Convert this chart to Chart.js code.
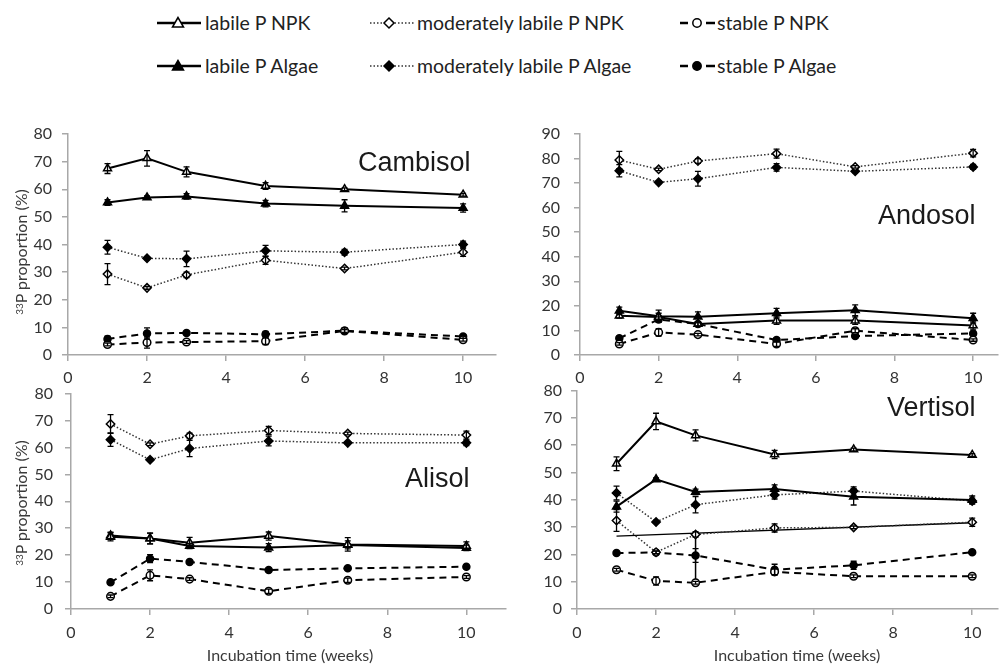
<!DOCTYPE html>
<html><head><meta charset="utf-8">
<script src="https://cdn.jsdelivr.net/npm/chart.js@4.4.1/dist/chart.umd.min.js"></script>
<style>
html,body{margin:0;padding:0;background:#fff;}
body{width:1004px;height:664px;position:relative;overflow:hidden;font-family:Lato,sans-serif;}
.t{position:absolute;white-space:nowrap;line-height:1;transform:translateY(-50%);}
.leg{font-size:19.5px;color:#222;}
.ptitle{font-family:"Liberation Sans",Arial,sans-serif;font-size:27px;color:#1a1a1a;}
.ytitle{position:absolute;white-space:nowrap;line-height:1;font-size:16px;color:#3a3a3a;transform:translate(-50%,-50%) rotate(-90deg);}
.ytitle sup{font-size:10px;vertical-align:4px;}
.xtitle{position:absolute;white-space:nowrap;line-height:1;font-size:16px;color:#3a3a3a;transform:translate(-50%,-50%);}
svg{position:absolute;}
</style></head><body>

<!-- legend -->
<svg style="left:155px;top:13px" width="48" height="20"><line x1="2" y1="10" x2="46" y2="10" stroke="#000" stroke-width="2.5"/><polygon points="23,4.5 17.5,14 28.5,14" fill="#fff" stroke="#000" stroke-width="1.5"/></svg>
<div class="t leg" style="left:205px;top:23px">labile P NPK</div>
<svg style="left:155px;top:56px" width="48" height="20"><line x1="2" y1="10" x2="46" y2="10" stroke="#000" stroke-width="2.5"/><polygon points="23,4.5 17.5,14 28.5,14" fill="#000" stroke="#000" stroke-width="1.5"/></svg>
<div class="t leg" style="left:205px;top:66px">labile P Algae</div>

<svg style="left:368px;top:13px" width="48" height="20"><line x1="2" y1="10" x2="46" y2="10" stroke="#333" stroke-width="1.5" stroke-dasharray="1.5 2"/><polygon points="21,5 26,10 21,15 16,10" fill="#fff" stroke="#000" stroke-width="1.5"/></svg>
<div class="t leg" style="left:417px;top:23px">moderately labile P NPK</div>
<svg style="left:368px;top:56px" width="48" height="20"><line x1="2" y1="10" x2="46" y2="10" stroke="#333" stroke-width="1.5" stroke-dasharray="1.5 2"/><polygon points="21,5 26,10 21,15 16,10" fill="#000" stroke="#000" stroke-width="1.5"/></svg>
<div class="t leg" style="left:417px;top:66px">moderately labile P Algae</div>

<svg style="left:678px;top:13px" width="40" height="20"><line x1="2" y1="10" x2="10" y2="10" stroke="#000" stroke-width="2.5"/><circle cx="19" cy="10" r="4.2" fill="#fff" stroke="#000" stroke-width="1.5"/><line x1="28" y1="10" x2="37" y2="10" stroke="#000" stroke-width="2.5"/></svg>
<div class="t leg" style="left:717px;top:23px">stable P NPK</div>
<svg style="left:678px;top:56px" width="40" height="20"><line x1="2" y1="10" x2="10" y2="10" stroke="#000" stroke-width="2.5"/><circle cx="19" cy="10" r="4.2" fill="#000" stroke="#000" stroke-width="1.5"/><line x1="28" y1="10" x2="37" y2="10" stroke="#000" stroke-width="2.5"/></svg>
<div class="t leg" style="left:717px;top:66px">stable P Algae</div>

<script>
// ---------- DATA ----------
const weeks = [1, 2, 3, 5, 7, 10];
const xTicks = [0, 2, 4, 6, 8, 10];

// Cambisol
const cambLabNPK = [67.5, 71.2, 66.3, 61.2, 60.0, 58.0];
const cambLabNPKErr = [1.8, 2.8, 1.8, 1.2, 0.5, 0.5];
const cambLabAlg = [55.2, 57.0, 57.4, 54.8, 54.0, 53.2];
const cambLabAlgErr = [1.0, 0.6, 1.0, 1.2, 2.2, 1.5];
const cambModNPK = [29.3, 24.3, 29.0, 34.3, 31.3, 37.2];
const cambModNPKErr = [3.8, 0.5, 1.0, 1.5, 0.5, 1.5];
const cambModAlg = [39.0, 35.0, 34.8, 37.7, 37.2, 40.0];
const cambModAlgErr = [2.5, 0.5, 2.8, 2.0, 1.0, 1.2];
const cambStaNPK = [3.8, 4.5, 4.7, 5.0, 8.7, 5.5];
const cambStaNPKErr = [0.5, 2.0, 0.5, 1.2, 0.5, 0.5];
const cambStaAlg = [5.8, 7.8, 8.0, 7.5, 8.8, 6.7];
const cambStaAlgErr = [1.0, 2.0, 0.5, 1.0, 1.0, 0.7];

// Andosol
const andLabNPK = [16.0, 15.5, 12.6, 14.0, 14.0, 12.0];
const andLabNPKErr = [1.0, 1.5, 1.0, 1.5, 1.5, 1.5];
const andLabAlg = [18.0, 15.8, 15.6, 17.0, 18.2, 15.0];
const andLabAlgErr = [1.5, 2.5, 2.0, 2.0, 2.2, 2.0];
const andModNPK = [79.4, 75.6, 79.0, 82.0, 76.6, 82.2];
const andModNPKErr = [3.5, 0.5, 1.0, 1.8, 0.5, 1.5];
const andModAlg = [75.0, 70.3, 71.8, 76.4, 74.8, 76.6];
const andModAlgErr = [2.5, 0.5, 3.0, 1.5, 0.5, 1.0];
const andStaNPK = [4.5, 9.2, 8.3, 4.5, 9.9, 6.1];
const andStaNPKErr = [0.5, 1.5, 0.5, 1.0, 0.8, 0.5];
const andStaAlg = [6.8, 14.5, 12.6, 6.1, 7.7, 8.8];
const andStaAlgErr = [0.8, 1.0, 0.8, 0.8, 0.8, 0.8];

// Alisol
const aliLabNPK = [26.8, 26.2, 24.6, 27.1, 24.0, 23.4];
const aliLabNPKErr = [1.5, 2.0, 2.0, 1.5, 2.5, 1.5];
const aliLabAlg = [27.3, 26.2, 23.4, 22.8, 23.8, 22.7];
const aliLabAlgErr = [1.2, 2.0, 1.0, 1.5, 1.5, 1.0];
const aliModNPK = [68.7, 61.2, 64.3, 66.3, 65.2, 64.6];
const aliModNPKErr = [3.5, 0.5, 1.0, 1.5, 0.5, 1.5];
const aliModAlg = [62.9, 55.4, 59.6, 62.4, 61.7, 61.7];
const aliModAlgErr = [2.5, 0.5, 3.0, 1.8, 0.5, 1.0];
const aliStaNPK = [4.7, 12.5, 11.1, 6.6, 10.7, 11.9];
const aliStaNPKErr = [0.5, 2.0, 0.5, 0.8, 0.8, 0.5];
const aliStaAlg = [9.9, 18.7, 17.5, 14.5, 15.1, 15.7];
const aliStaAlgErr = [0.5, 1.5, 0.5, 0.5, 0.5, 0.5];

// Vertisol
const verLabNPK = [53.2, 68.7, 63.6, 56.6, 58.4, 56.4];
const verLabNPKErr = [2.5, 3.0, 2.0, 1.5, 0.5, 0.5];
const verLabAlg = [37.5, 47.5, 42.9, 44.0, 41.1, 39.9];
const verLabAlgErr = [2.0, 0.5, 1.0, 1.5, 3.0, 1.5];
const verModNPK = [32.4, 20.8, 27.3, 29.7, 29.9, 31.8];
const verModNPKErr = [4.0, 0.5, 1.0, 1.5, 0.5, 1.5];
const verModAlg = [42.5, 31.9, 38.2, 41.8, 43.2, 39.6];
const verModAlgErr = [2.5, 0.5, 3.0, 1.5, 1.5, 1.0];
const verStaNPK = [14.4, 10.3, 9.6, 13.6, 12.0, 12.0];
const verStaNPKErr = [0.5, 1.5, 0.5, 1.0, 0.5, 0.5];
const verStaAlg = [20.5, 20.7, 19.6, 14.4, 16.0, 20.8];
const verStaAlgErr = [0.5, 0.5, 2.5, 2.0, 1.5, 0.5];
// stray lines present in the Vertisol panel
const verTrendX = [1, 10];
const verTrendY = [26.7, 31.6];
const verVertX = [3, 3];
const verVertY = [27.3, 9.6];

// ---------- STYLE ----------
const AXIS = '#a8a8a8';
const TICK_FONT = {family: 'Lato', size: 16};
const TICK_COL = '#333';

function pts(xs, ys) { return xs.map((x, i) => ({x: x, y: ys[i]})); }

function series(kind, open, vals, errs) {
  const base = {data: pts(weeks, vals), errors: errs, borderColor: '#000', fill: false, tension: 0,
    pointBorderColor: '#000', pointBorderWidth: 1.5, pointBackgroundColor: open ? '#fff' : '#000'};
  if (kind === 'lab') return Object.assign(base, {borderWidth: 2, pointStyle: 'triangle', pointRadius: 4.6});
  if (kind === 'mod') return Object.assign(base, {borderWidth: 1.5, borderColor: '#333', borderDash: [1.5, 2], pointStyle: 'rectRot', pointRadius: 4.2});
  return Object.assign(base, {borderWidth: 2, borderDash: [7, 5], pointStyle: 'circle', pointRadius: open ? 3.8 : 3.5});
}

const errPlugin = {
  id: 'errbars',
  afterDatasetsDraw(chart) {
    const ctx = chart.ctx, xs = chart.scales.x, ys = chart.scales.y;
    ctx.save();
    ctx.strokeStyle = '#000';
    ctx.lineWidth = 1.3;
    ctx.setLineDash([]);
    chart.data.datasets.forEach(ds => {
      if (!ds.errors) return;
      ds.data.forEach((p, i) => {
        const e = ds.errors[i];
        if (!e) return;
        const x = xs.getPixelForValue(p.x);
        const y1 = ys.getPixelForValue(p.y + e), y2 = ys.getPixelForValue(p.y - e);
        ctx.beginPath();
        ctx.moveTo(x, y1); ctx.lineTo(x, y2);
        ctx.moveTo(x - 3, y1); ctx.lineTo(x + 3, y1);
        ctx.moveTo(x - 3, y2); ctx.lineTo(x + 3, y2);
        ctx.stroke();
      });
    });
    ctx.restore();
  }
};

function makePanel(box, area, yMax, xMax, yPad, xPad, datasets) {
  const cv = document.createElement('canvas');
  cv.width = box.w; cv.height = box.h;
  cv.style.cssText = 'position:absolute;left:' + box.x + 'px;top:' + box.y + 'px;width:' + box.w + 'px;height:' + box.h + 'px';
  document.body.appendChild(cv);
  const yW = area.l - box.x, xH = box.y + box.h - area.b;
  const grid = {drawOnChartArea: false, drawTicks: true, tickLength: 6, color: AXIS, lineWidth: 1.5};
  const border = {display: true, color: AXIS, width: 1.5};
  new Chart(cv, {
    type: 'line',
    data: {datasets: datasets},
    options: {
      responsive: false, animation: false, events: [],
      layout: {padding: {top: area.t - box.y, right: box.x + box.w - area.r, left: 0, bottom: 0}},
      plugins: {legend: {display: false}, tooltip: {enabled: false}},
      scales: {
        x: {type: 'linear', min: 0, max: xMax, afterFit: s => { s.height = xH; },
          afterBuildTicks: s => { s.ticks = xTicks.map(v => ({value: v})); },
          ticks: {padding: xPad, font: TICK_FONT, color: TICK_COL, maxRotation: 0},
          grid: grid, border: border},
        y: {type: 'linear', min: 0, max: yMax, afterFit: s => { s.width = yW; },
          ticks: {stepSize: 10, includeBounds: false, padding: yPad, font: TICK_FONT, color: TICK_COL},
          grid: grid, border: border}
      }
    },
    plugins: [errPlugin]
  });
}

// Cambisol
makePanel({x: 0, y: 100, w: 502, h: 295}, {l: 68, t: 134, r: 500, b: 355}, 80, 10.83, 10, 7, [
  series('lab', true, cambLabNPK, cambLabNPKErr),
  series('lab', false, cambLabAlg, cambLabAlgErr),
  series('mod', true, cambModNPK, cambModNPKErr),
  series('mod', false, cambModAlg, cambModAlgErr),
  series('sta', true, cambStaNPK, cambStaNPKErr),
  series('sta', false, cambStaAlg, cambStaAlgErr)
]);
// Andosol
makePanel({x: 502, y: 100, w: 502, h: 295}, {l: 580, t: 134, r: 1003, b: 355}, 90, 10.63, 14, 7, [
  series('lab', true, andLabNPK, andLabNPKErr),
  series('lab', false, andLabAlg, andLabAlgErr),
  series('mod', true, andModNPK, andModNPKErr),
  series('mod', false, andModAlg, andModAlgErr),
  series('sta', true, andStaNPK, andStaNPKErr),
  series('sta', false, andStaAlg, andStaAlgErr)
]);
// Alisol
makePanel({x: 0, y: 372, w: 512, h: 292}, {l: 71, t: 388, r: 510, b: 609}, 80, 11.0, 12, 8, [
  series('lab', true, aliLabNPK, aliLabNPKErr),
  series('lab', false, aliLabAlg, aliLabAlgErr),
  series('mod', true, aliModNPK, aliModNPKErr),
  series('mod', false, aliModAlg, aliModAlgErr),
  series('sta', true, aliStaNPK, aliStaNPKErr),
  series('sta', false, aliStaAlg, aliStaAlgErr)
]);
// Vertisol
makePanel({x: 502, y: 372, w: 502, h: 292}, {l: 577, t: 389, r: 1003, b: 609}, 80, 10.65, 9, 8, [
  series('lab', true, verLabNPK, verLabNPKErr),
  series('lab', false, verLabAlg, verLabAlgErr),
  series('mod', true, verModNPK, verModNPKErr),
  series('mod', false, verModAlg, verModAlgErr),
  series('sta', true, verStaNPK, verStaNPKErr),
  series('sta', false, verStaAlg, verStaAlgErr),
  {data: pts(verTrendX, verTrendY), borderColor: '#000', borderWidth: 1.3, pointRadius: 0, fill: false},
  {data: pts(verVertX, verVertY), borderColor: '#000', borderWidth: 1.5, pointRadius: 0, fill: false}
]);
</script>

<div class="t ptitle" style="left:358px;top:162px">Cambisol</div>
<div class="t ptitle" style="left:878px;top:215px">Andosol</div>
<div class="t ptitle" style="left:405px;top:478px">Alisol</div>
<div class="t ptitle" style="left:887px;top:407px">Vertisol</div>

<div class="ytitle" style="left:21px;top:252px"><sup>33</sup>P proportion (%)</div>
<div class="ytitle" style="left:21px;top:503px"><sup>33</sup>P proportion (%)</div>
<div class="xtitle" style="left:290px;top:655px">Incubation time (weeks)</div>
<div class="xtitle" style="left:797px;top:655px">Incubation time (weeks)</div>
</body></html>
